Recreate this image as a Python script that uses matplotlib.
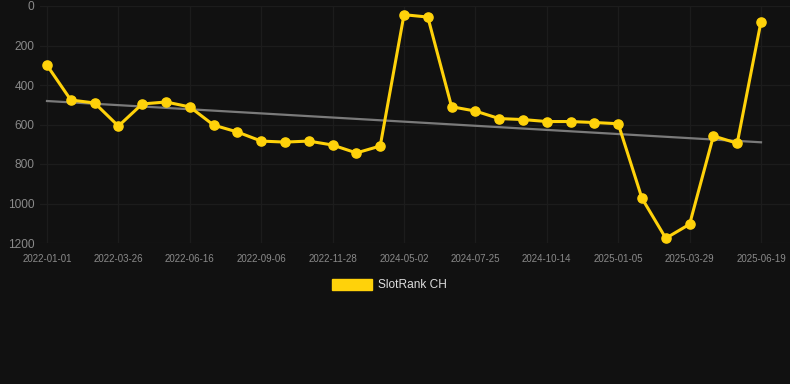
import numpy as np
import matplotlib
matplotlib.use("Agg")
import matplotlib.pyplot as plt

dates = ["2022-01-01", "2022-01-29", "2022-02-26", "2022-03-26", "2022-04-23", "2022-05-21",
         "2022-06-16", "2022-07-14", "2022-08-11", "2022-09-06", "2022-10-04", "2022-11-01",
         "2022-11-28", "2022-12-26", "2023-01-23", "2024-05-02", "2024-05-30", "2024-06-27",
         "2024-07-25", "2024-08-22", "2024-09-18", "2024-10-14", "2024-11-11", "2024-12-09",
         "2025-01-05", "2025-02-02", "2025-03-01", "2025-03-29", "2025-04-26", "2025-05-24",
         "2025-06-19"]
ranks = [300, 476, 491, 608, 496, 486, 511, 603, 638, 684, 689, 684, 704, 744, 709,
         44, 56, 510, 532, 570, 575, 585, 585, 590, 596, 974, 1176, 1105, 658, 695, 79]
series_name = "SlotRank CH"
yticks = [0, 200, 400, 600, 800, 1000, 1200]

plt.rcParams['font.family'] = ['Liberation Sans', 'DejaVu Sans']

BG = "#111111"
GOLD = "#FFD20A"
GRID = "#1c1c1c"
TXT = "#8a8a8a"

fig = plt.figure(figsize=(7.9, 3.84), dpi=100, facecolor=BG)
W, H = 790, 384
left_px, right_px, top_px, bot_px = 40, 790, 6, 243
ax = fig.add_axes([left_px / W, 1 - bot_px / H, (right_px - left_px) / W, (bot_px - top_px) / H])
ax.set_facecolor(BG)

x = np.arange(len(ranks))
ppu = (761 - 47) / 30.0
ax.set_xlim(-(47 - left_px) / ppu, 30 + (right_px - 761) / ppu)
ax.set_ylim(1200, 0)

# trend line
coef = np.polyfit(x, ranks, 1)
ax.plot([x[0], x[-1]], np.polyval(coef, [x[0], x[-1]]), color="#7a7a7a", lw=1.6, zorder=2)

ax.plot(x, ranks, color=GOLD, lw=2.2, marker="o", ms=6.6, mfc=GOLD, mec=GOLD, zorder=3,
        solid_joinstyle="round")

tick_idx = list(range(0, len(dates), 3))
ax.set_xticks(tick_idx)
ax.set_xticklabels([dates[i] for i in tick_idx], fontsize=7, color=TXT)
ax.set_yticks(yticks)
ax.set_yticklabels([str(v) for v in yticks], fontsize=8.6, color=TXT)
ax.tick_params(axis="both", length=0)
ax.tick_params(axis="x", pad=8)
ax.tick_params(axis="y", pad=4)
ax.grid(True, color=GRID, lw=0.9)
ax.set_axisbelow(True)
for s in ax.spines.values():
    s.set_visible(False)

# legend
fig.patches.append(plt.Rectangle((332 / W, 1 - 290 / H), 40 / W, 11 / H,
                                 transform=fig.transFigure, color=GOLD))
fig.text(378 / W, 1 - 285 / H, series_name, color="#dddddd", fontsize=8.6, va="center", ha="left")

fig.savefig("out.png", dpi=100, facecolor=BG)
